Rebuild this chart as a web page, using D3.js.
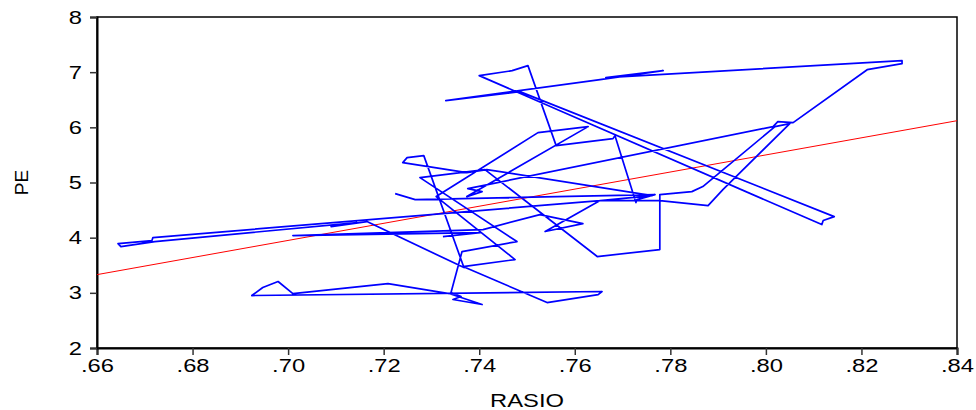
<!DOCTYPE html>
<html>
<head>
<meta charset="utf-8">
<script src="https://cdn.jsdelivr.net/npm/d3@7"></script>
<style>
  body { margin: 0; background: white; }
  svg { display: block; }
  text { font-family: "Liberation Sans", Arial, sans-serif; }
</style>
</head>
<body>
<div id="container"></div>
<script>
let w = 976;
let h = 410;

// series, in time order
let rasio = [
  .7224, .7266, .7768, .7730, .7728, .7684, .7680, .7561, .7502, .7469,
  .7400, .8117, .8120, .8143, .7485, .7330, .7653, .7785, .7665, .8285,
  .8285, .8212, .8057, .8025, .8015, .7376, .7406, .7374, .7628, .7523,
  .7310, .7475, .7366, .7542, .7649, .7657, .6924, .6947, .6979, .7010,
  .7209, .7337, .7406, .7345, .7362, .7341, .7364, .7479, .7276, .7412,
  .7647, .7778, .7778, .7845, .7868, .8019, .8050, .7910, .7879, .7778,
  .7653, .6717, .6715, .6644, .6650, .6721, .7144, .7090, .7165, .7368,
  .7284, .7249, .7240, .7374, .7416, .7762, .7653, .7538, .7617, .7527,
  .7408, .7010, .7402, .7324
];
let pe = [
  4.799, 4.690, 4.781, 4.690, 4.636, 5.850, 5.795, 5.668, 7.118, 7.027,
  6.937, 4.237, 4.310, 4.382, 6.647, 6.484, 6.864, 7.027, 6.900, 7.208,
  7.154, 7.045, 6.085, 6.103, 6.013, 4.889, 4.835, 4.745, 6.013, 5.904,
  4.745, 3.603, 3.476, 2.824, 2.969, 3.024, 2.951, 3.096, 3.205, 2.987,
  3.168, 2.987, 2.788, 2.879, 2.933, 3.005, 3.748, 3.929, 5.089, 5.234,
  3.658, 3.784, 4.781, 4.835, 4.926, 6.013, 6.067, 4.871, 4.582, 4.672,
  4.672, 4.002, 3.947, 3.893, 3.839, 3.929, 4.274, 4.201, 4.292, 3.458,
  5.487, 5.451, 5.361, 5.179, 5.234, 4.763, 4.672, 4.111, 4.255, 4.418,
  4.147, 4.038, 4.092, 4.020
];

// fitted line (red)
let fitX = [0.66, 0.84];
let fitY = [3.33, 6.12];

let xTicks = [0.66, 0.68, 0.70, 0.72, 0.74, 0.76, 0.78, 0.80, 0.82, 0.84];
let yTicks = [2, 3, 4, 5, 6, 7, 8];

let padL = 97, padR = 957, padT = 17, padB = 348;
let fontSize = "19px";
let stretch = 1.25; // labels in the original are drawn a bit wide

let viz = d3.select("#container").append("svg")
    .attr("width", w)
    .attr("height", h)
    .style("background-color", "white");

let x = d3.scaleLinear().domain([0.66, 0.84]).range([padL, padR]);
let y = d3.scaleLinear().domain([2, 8]).range([padB, padT]);

function widen(sel) {
  sel.each(function() {
    let len = this.getComputedTextLength();
    d3.select(this)
      .attr("textLength", len * stretch)
      .attr("lengthAdjust", "spacingAndGlyphs");
  });
}

// frame
viz.append("rect")
    .attr("x", padL).attr("y", padT)
    .attr("width", padR - padL).attr("height", padB - padT)
    .attr("fill", "none")
    .attr("stroke", "black")
    .attr("stroke-width", 1.5);

let xAxis = d3.axisBottom(x)
    .tickValues(xTicks)
    .tickSize(7)
    .tickFormat(d => d3.format(".2f")(d).replace(/^0/, ""));
let yAxis = d3.axisLeft(y)
    .tickValues(yTicks)
    .tickSize(7)
    .tickFormat(d3.format("d"));

let gx = viz.append("g").attr("transform", `translate(0,${padB})`).call(xAxis);
let gy = viz.append("g").attr("transform", `translate(${padL},0)`).call(yAxis);

[gx, gy].forEach(g => {
  g.select(".domain").attr("stroke", "black").attr("stroke-width", 2);
  g.selectAll(".tick line").attr("stroke", "#333").attr("stroke-width", 1.5);
  g.selectAll(".tick text")
    .attr("fill", "black")
    .style("font-size", fontSize);
});
gx.selectAll(".tick text").attr("y", 11);
gy.selectAll(".tick text").attr("x", -15);
widen(gx.selectAll(".tick text"));
widen(gy.selectAll(".tick text"));

// regression line
viz.append("line")
    .attr("x1", x(fitX[0])).attr("y1", y(fitY[0]))
    .attr("x2", x(fitX[1])).attr("y2", y(fitY[1]))
    .attr("stroke", "red")
    .attr("stroke-width", 1);

// data path
let pts = rasio.map((r, i) => [r, pe[i]]);
let line = d3.line().x(d => x(d[0])).y(d => y(d[1]));
viz.append("path")
    .datum(pts)
    .attr("d", line)
    .attr("fill", "none")
    .attr("stroke", "#0000ff")
    .attr("stroke-width", 1.7)
    .attr("stroke-linejoin", "round");

// axis titles
let xt = viz.append("text")
    .attr("x", (padL + padR) / 2)
    .attr("y", 407)
    .attr("text-anchor", "middle")
    .style("font-size", fontSize)
    .text("RASIO");
widen(xt);

let yt = viz.append("text")
    .attr("transform", `translate(28,${(padT + padB) / 2}) rotate(-90)`)
    .attr("text-anchor", "middle")
    .style("font-size", fontSize)
    .text("PE");
</script>
</body>
</html>
